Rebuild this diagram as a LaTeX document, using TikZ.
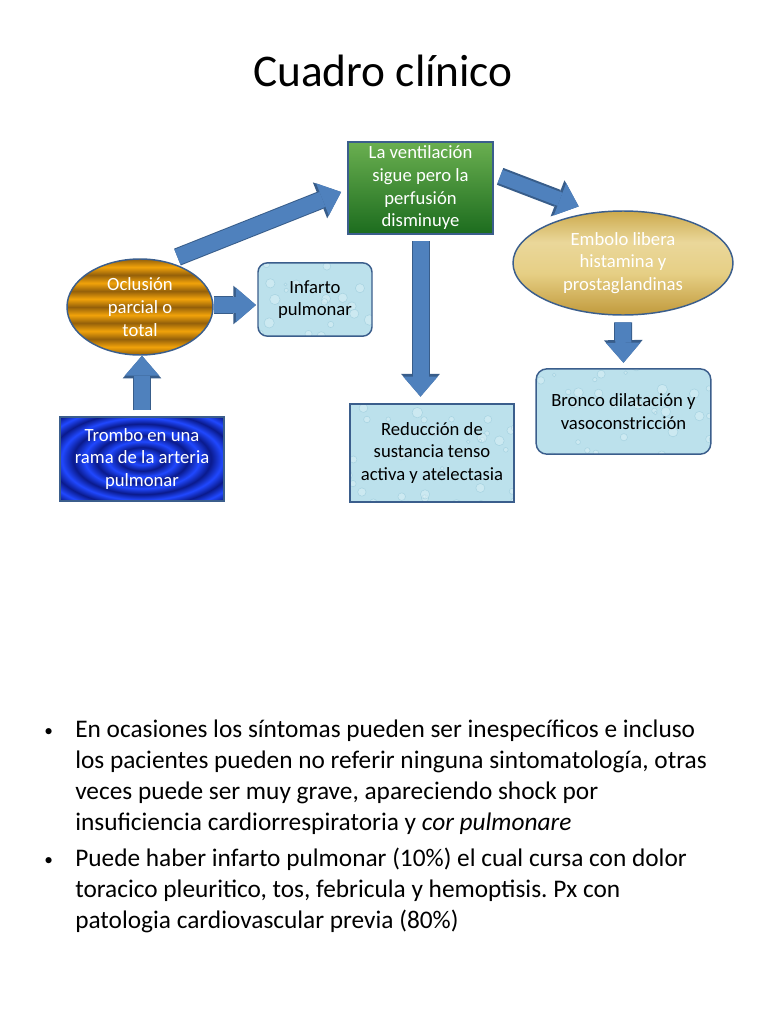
\documentclass[tikz,border=0pt]{standalone}
\usepackage{fontspec}
\setmainfont{Carlito}
\usetikzlibrary{arrows.meta,positioning,calc,shapes.geometric}
\frenchspacing
\definecolor{arrF}{HTML}{4F81BD}
\definecolor{arrL}{HTML}{385D8A}
\definecolor{edge}{HTML}{3B5E8C}
\definecolor{grnT}{HTML}{6AAF50}
\definecolor{grnB}{HTML}{1C6C1E}
\definecolor{ocO}{HTML}{F2A30A}
\definecolor{ocB}{HTML}{94600A}
\definecolor{gdA}{HTML}{C19A3C}
\definecolor{gdB}{HTML}{E6CF85}
\definecolor{gdC}{HTML}{EAD79A}
\definecolor{gdD}{HTML}{CCAA4C}
\definecolor{tbD}{HTML}{0A1A8C}
\definecolor{tbH}{HTML}{2048FF}
\definecolor{wet}{HTML}{BCE1EC}
\definecolor{wetL}{HTML}{9CCCDC}
\definecolor{wetH}{HTML}{DDF1F6}
% banded fill of the occlusion ellipse
\pgfdeclareverticalshading{ocbands}{100bp}{color(0bp)=(ocB); color(25bp)=(ocB);
  color(29.2bp)=(ocO); color(33.3bp)=(ocB); color(37.5bp)=(ocO); color(41.7bp)=(ocB);
  color(45.8bp)=(ocO); color(50bp)=(ocB); color(54.2bp)=(ocO); color(58.3bp)=(ocB);
  color(62.5bp)=(ocO); color(66.7bp)=(ocB); color(70.8bp)=(ocO); color(75bp)=(ocB);
  color(100bp)=(ocB)}
\pgfdeclareverticalshading{goldfill}{100bp}{color(0bp)=(gdA); color(25bp)=(gdA);
  color(45bp)=(gdB); color(60bp)=(gdC); color(75bp)=(gdD); color(100bp)=(gdD)}
% concentric rings of the thrombus box
\pgfdeclareradialshading{tbrings}{\pgfpoint{0bp}{0bp}}{color(0bp)=(tbD);
  color(3.5bp)=(tbH); color(7bp)=(tbD); color(10.5bp)=(tbH); color(14bp)=(tbD);
  color(17.5bp)=(tbH); color(21bp)=(tbD); color(24.5bp)=(tbH); color(28bp)=(tbD);
  color(31.5bp)=(tbH); color(35bp)=(tbD); color(50bp)=(tbD)}
\newcommand{\bul}{\llap{\makebox[23.25pt][l]{\fontsize{13}{13}\selectfont\raisebox{1pt}{•}}}}
\tikzset{
  every node/.style={font=\fontsize{14}{17}\selectfont},
  blk/.style ={draw=edge, line width=1.1pt, align=center, inner sep=0pt},
  grn/.style ={blk, top color=grnT, bottom color=grnB, text=white},
  ocl/.style ={blk, ellipse, shading=ocbands, text=white},
  gld/.style ={blk, ellipse, shading=goldfill, text=white},
  blu/.style ={blk, shading=tbrings, text=white},
  wat/.style ={blk, fill=wet, text=black, drops},
  drops/.style={path picture={
    \foreach \k in {1,...,45}{
      \pgfmathsetmacro{\dx}{rand*70}\pgfmathsetmacro{\dy}{rand*40}
      \pgfmathsetmacro{\dr}{1+3*rnd}
      \draw[wetL, fill=wetH, fill opacity=0.5, draw opacity=0.7, line width=0.4pt]
        ($(path picture bounding box.center)+(\dx pt,\dy pt)$) circle (\dr pt);
    }}},
  bar/.style ={draw=arrF, line width=12pt,
               -{Triangle[length=15pt, width=26pt, line width=0pt]},
               preaction={draw=arrL, line width=13.5pt,
               -{Triangle[length=17pt, width=29pt, line width=0pt]}}},
}

\begin{document}
\begin{tikzpicture}[x=0.75pt, y=-0.75pt]
\pgfmathsetseed{12}
\useasboundingbox[fill=white] (0,0) rectangle (768,1024);

% title
\node[anchor=base, font=\fontsize{34}{40}\selectfont] (title) at (383,87) {Cuadro clínico};

% ---------------- flow chart ----------------
\node[grn, minimum width=109pt, minimum height=69pt] (vent) at (420.5,188)
  {La ventilación\\sigue pero la\\perfusión\\disminuye};
\node[ocl, minimum width=109.5pt, minimum height=72pt] (ocl) at (140,307)
  {Oclusión\\parcial o\\total};
\node[wat, rounded corners=7pt, minimum width=85.5pt, minimum height=55pt] (infarto)
  at (315,299.5) {Infarto\\pulmonar};
\node[blu, minimum width=123pt, minimum height=63pt] (trombo) at (142,459)
  {Trombo en una\\rama de la arteria\\pulmonar};
\node[gld, minimum width=165pt, minimum height=78pt] (embolo) at (623,263)
  {Embolo libera\\histamina y\\prostaglandinas};
\node[wat, rounded corners=8pt, minimum width=131pt, minimum height=64pt] (bronco)
  at (623.5,411.5) {Bronco dilatación y\\vasoconstricción};
\node[wat, minimum width=123pt, minimum height=73.5pt] (reduc) at (432,453)
  {Reducción de\\sustancia tenso\\activa y atelectasia};

% block arrows
\draw[bar, shorten <=4.5pt] (trombo.north) -- (trombo.north |- ocl.south);
\draw[bar, shorten >=1pt] ($(ocl.east)+(0,-2)$) -- (infarto.west |- {$(ocl.east)+(0,-2)$});
\draw[bar, shorten <=9pt] (ocl.60) -- ($(vent.west)+(-6,4)$);
\draw[bar, shorten <=5pt, shorten >=5pt] (vent.south) -- (vent.south |- reduc.north);
\draw[bar, line width=10.5pt, shorten <=5pt, shorten >=12pt]
  ($(vent.north east)!0.35!(vent.south east)$) -- (embolo.120);
\draw[bar, shorten <=5pt, shorten >=4pt] (embolo.south) -- (bronco.north);

% ---------------- notes ----------------
\node[anchor=north west, align=left, inner sep=0pt,
      font=\fontsize{19}{23.25}\selectfont] (notes) at (75,720)
  {\bul En ocasiones los síntomas pueden ser inespecíficos e incluso\\
   los pacientes pueden no referir ninguna sintomatología, otras\\
   veces puede ser muy grave, apareciendo shock por\\
   insuficiencia cardiorrespiratoria y \textit{cor pulmonare}\\[3.75pt]
   \bul Puede haber infarto pulmonar (10\%) el cual cursa con dolor\\
   toracico pleuritico, tos, febricula y hemoptisis. Px con\\
   patologia cardiovascular previa (80\%)};
\end{tikzpicture}
\end{document}
